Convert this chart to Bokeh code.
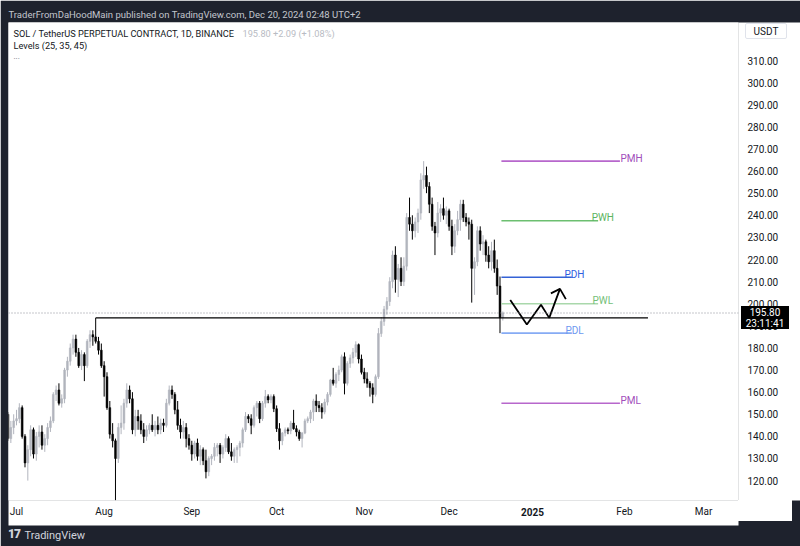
import pandas as pd
from bokeh.plotting import figure
from bokeh.layouts import column
from bokeh.models import (Range1d, FixedTicker, PrintfTickFormatter, Span, Label,
                          ColumnDataSource, Title, Div)
from bokeh.core.properties import value
from bokeh.embed import file_html
from bokeh.resources import INLINE

# ---------------- data (SOLUSDT.P daily) ----------------
first_day = "2024-06-28"
opens = [
    150, 139, 144,
    147, 148, 153, 140, 128, 134, 143, 132, 140, 142, 136, 139, 144, 147, 159, 161, 155, 157, 170, 174,
    180, 184, 178, 172, 177, 172, 183, 186, 185, 183, 179,
    172, 167, 153, 141, 138, 130, 144, 146, 155, 161, 157, 143, 149, 147, 143, 140, 143, 145, 143, 145,
    143, 146, 145, 155, 161, 159, 152, 145, 142, 144, 139,
    136, 132, 137, 131, 134, 129, 124, 130, 131, 135, 136, 132, 135, 139, 133, 131, 134, 135, 137, 143,
    149, 148, 145, 153, 155, 148, 155, 158, 156.5, 158,
    152.5, 143.5, 138, 141.5, 143, 142.5, 146, 143.5, 142, 139, 141.5, 147, 148, 151, 156, 154, 153, 151,
    155.5, 159, 165.5, 164, 168, 170, 176, 164, 173, 175.5, 178, 181.5, 175,
    169, 166, 164, 162, 159, 167, 186.5, 192, 197.5, 201, 210, 222, 211, 216, 210, 217, 239, 236, 233, 237,
    241, 256, 258, 253, 245, 235, 232, 241, 243, 240,
    242, 235, 226, 233, 238, 245, 239, 237, 236, 216, 219, 233, 227, 228, 222, 219, 224, 216, 208, 193.7,
]
highs = [
    151, 147, 150,
    152, 155, 154, 141, 136, 145, 144, 142, 145, 145, 141, 146, 149, 160, 163, 164, 159, 171, 176, 182,
    186, 186, 180, 179, 178, 184, 188, 188, 193.6, 185, 182,
    174, 169, 156, 146, 139, 146, 154, 157, 164, 163, 160, 152, 152, 150, 146, 145, 146, 150, 147, 149,
    148, 148, 157, 163, 163, 160, 156, 148, 147, 146, 141,
    138, 138, 139, 136, 135, 134, 131, 132, 137, 137, 137, 136, 141, 140, 137, 135, 136, 138, 144, 151,
    150, 150, 154, 156, 156, 156, 161, 159, 159, 159,
    154, 146, 142, 144, 144, 147, 152, 145, 143, 142, 148, 149, 152, 157, 159, 156, 155, 157, 160, 166,
    171, 169, 172, 177, 178, 174, 177, 180, 183, 182, 177,
    171, 169, 165, 164, 168, 189, 194, 199, 203, 212, 224, 226, 218, 221, 221, 241, 248, 240, 239, 243,
    259, 264.5, 262, 255, 248, 237, 246, 245, 248, 244,
    243, 238, 236, 242, 247, 247, 241, 239, 238, 221, 235, 235, 231, 229, 226, 228, 229, 220, 212.3, 196.5,
]
lows = [
    138, 137, 141,
    145, 146, 139, 126, 120, 131, 130, 129, 135, 134, 133, 136, 142, 146, 156, 154, 153, 155, 167, 172,
    177, 176, 171, 170, 165, 171, 180, 181, 182, 177, 171,
    158, 152, 139, 135, 111, 128, 141, 143, 153, 155, 141, 140, 143, 141, 137, 138, 141, 142, 140, 141,
    141, 142, 144, 154, 157, 150, 143, 139, 139, 135, 134,
    129, 130, 129, 127, 127, 121, 122, 127, 129, 131, 128, 130, 133, 132, 129, 128, 128, 131, 135, 142,
    146, 141, 144, 149, 146, 147, 153, 155, 155, 151,
    142, 134, 136, 140, 141, 141, 143, 140, 138, 135, 141, 146, 146, 147, 151, 151, 148, 150, 154, 158,
    163, 162, 165, 169, 159, 163, 171, 173, 176, 173, 168,
    164, 162, 158, 155, 158, 166, 185, 190, 195, 199, 207, 205, 203, 208, 208, 215, 233, 229, 230, 232,
    238, 252, 250, 241, 233, 222, 230, 237, 238, 236,
    233, 222, 223, 231, 233, 237, 235, 229, 200.5, 204, 217, 224, 222, 219, 216, 215, 214, 204, 186.7, 192.4,
]
closes = [
    139, 144, 147,
    148, 153, 140, 128, 134, 143, 132, 140, 142, 136, 139, 144, 147, 159, 161, 155, 157, 170, 174, 180,
    184, 178, 172, 177, 172, 183, 186, 185, 183, 179, 172,
    167, 153, 141, 138, 130, 144, 146, 155, 161, 157, 143, 149, 147, 143, 140, 143, 145, 143, 145, 143,
    146, 145, 155, 161, 159, 152, 145, 142, 144, 139, 136,
    132, 137, 131, 134, 129, 124, 130, 131, 135, 136, 132, 135, 139, 133, 131, 134, 135, 137, 143, 149,
    148, 145, 153, 155, 148, 155, 158, 156.5, 158, 152.5,
    143.5, 138, 141.5, 143, 142.5, 146, 143.5, 142, 139, 141.5, 147, 148, 151, 156, 154, 153, 151, 155.5,
    159, 165.5, 164, 168, 170, 176, 164, 173, 175.5, 178, 181.5, 175, 169,
    166, 164, 162, 159, 167, 186.5, 192, 197.5, 201, 210, 222, 211, 216, 210, 217, 239, 236, 233, 237, 241,
    256, 258, 253, 245, 235, 232, 241, 243, 240, 242,
    235, 226, 233, 238, 245, 239, 237, 236, 216, 219, 233, 227, 228, 222, 219, 224, 216, 208, 193.7, 195.8,
]

last_price = 195.80
countdown = "23:11:41"

# key levels (Levels indicator)
level_names = ["PMH", "PWH", "PDH", "PWL", "PDL", "PML"]
level_values = [264.5, 237.5, 212.0, 200.0, 186.7, 155.0]
level_start = "2024-12-19 12:00"
level_ends = ["2025-01-30 10:00", "2025-01-22 17:00", "2025-01-13 10:00",
              "2025-01-22 17:00", "2025-01-13 10:00", "2025-01-30 10:00"]
level_label_at = ["2025-01-30 14:00", "2025-01-20 10:00", "2025-01-10 19:00",
                  "2025-01-20 17:00", "2025-01-11 03:00", "2025-01-30 14:00"]

# horizontal support line drawn from the July high
support_price = 193.6
support_from, support_to = "2024-07-29", "2025-02-09 08:00"

# projected zig-zag path with arrow head
zig_dates = ["2024-12-22 15:00", "2024-12-28 12:00", "2025-01-02 12:00",
             "2025-01-05 10:00", "2025-01-09 05:00"]
zig_prices = [201.7, 190.6, 199.5, 193.6, 206.7]
head_dates = ["2025-01-06 00:00", "2025-01-09 05:00", "2025-01-11 07:00"]
head_prices = [204.7, 206.7, 202.1]

month_ticks = ["2024-07-01", "2024-08-01", "2024-09-01", "2024-10-01", "2024-11-01",
               "2024-12-01", "2025-01-01", "2025-02-01", "2025-03-01"]
month_labels = ["Jul", "Aug", "Sep", "Oct", "Nov", "Dec", "2025", "Feb", "Mar"]
price_ticks = list(range(120, 320, 10))

header_text = "TraderFromDaHoodMain published on TradingView.com, Dec 20, 2024 02:48 UTC+2"
symbol_text = "SOL / TetherUS PERPETUAL CONTRACT, 1D, BINANCE"
change_text = "195.80  +2.09 (+1.08%)"
indicator_text = "Levels (25, 35, 45)"
currency_text = "USDT"

# ---------------- styles ----------------
FONT = "Roboto"
DARK = "#1e222d"
UP = "#b2b5be"
DOWN = "#000000"
TXT = "#131722"
level_line_colors = ["#b767cc", "#6cbf70", "#3462d6", "#a9d8ab", "#86abf4", "#b767cc"]
level_text_colors = ["#a24dbb", "#5cb460", "#2f5ee0", "#74c078", "#6d98f0", "#a24dbb"]

# ---------------- figure ----------------
dates = pd.date_range(first_day, periods=len(opens), freq="D")
df = pd.DataFrame(dict(date=dates, open=opens, high=highs, low=lows, close=closes))
up = df["close"] >= df["open"]
src_up = ColumnDataSource(df[up])
src_dn = ColumnDataSource(df[~up])

p = figure(width=800, height=546, x_axis_type="datetime", y_axis_location="right",
           x_range=Range1d(pd.Timestamp("2024-06-28 04:00"), pd.Timestamp("2025-03-13 08:30")),
           y_range=Range1d(111.0, 327.2),
           output_backend="svg", toolbar_location=None)
p.min_border_left = 8
p.min_border_right = 62
p.min_border_top = 22
p.min_border_bottom = 46
p.background_fill_color = "white"
p.border_fill_color = DARK
p.outline_line_color = None
p.grid.visible = False

# header (title above) and footer (title below)
p.title.text = header_text
p.title.text_font = FONT
p.title.text_font_size = "9.5px"
p.title.text_font_style = "normal"
p.title.text_color = "#c3c6ce"
p.title.align = "left"
p.title.offset = 0
p.title.standoff = 6
p.add_layout(Title(text="TradingView", text_font=FONT, text_font_size="11px",
                   text_font_style="normal", text_color="#d1d4dc", align="left",
                   offset=16, standoff=2), "below")

day_ms = 24 * 3600 * 1000
for src, col in ((src_up, UP), (src_dn, DOWN)):
    p.segment("date", "high", "date", "low", source=src, line_color=col, line_width=1)
    p.vbar(x="date", width=0.62 * day_ms, top="open", bottom="close", source=src,
           fill_color=col, line_color=col, line_width=0.6)

# last price dotted line
p.add_layout(Span(location=last_price, dimension="width", line_color="#8a8d96",
                  line_dash="1 2", line_width=1))

# support line
p.line([pd.Timestamp(support_from), pd.Timestamp(support_to)], [support_price, support_price],
       line_color="black", line_width=1.4)

# levels
lv = ColumnDataSource(dict(
    x0=[pd.Timestamp(level_start)] * len(level_values),
    x1=[pd.Timestamp(d) for d in level_ends],
    y=level_values, name=level_names,
    xl=[pd.Timestamp(d) for d in level_label_at],
    lc=level_line_colors, tc=level_text_colors))
p.segment(x0="x0", y0="y", x1="x1", y1="y", source=lv, line_color="lc", line_width=1.6)
p.text(x="xl", y="y", text="name", source=lv, text_color="tc", text_font=value(FONT),
       text_font_size="10px", text_baseline="middle", text_align="left", y_offset=-3)

# zig-zag projection
p.line([pd.Timestamp(d) for d in zig_dates], zig_prices, line_color="black", line_width=1.8)
p.line([pd.Timestamp(d) for d in head_dates], head_prices, line_color="black", line_width=1.8)

# axes
xa = p.xaxis[0]
tick_ms = [pd.Timestamp(d).value / 1e6 for d in month_ticks]
xa.ticker = FixedTicker(ticks=tick_ms)
xa.major_label_overrides = {t: ("" if lab == "2025" else lab) for t, lab in zip(tick_ms, month_labels)}
ya = p.yaxis[0]
ya.ticker = FixedTicker(ticks=price_ticks)
ya.formatter = PrintfTickFormatter(format="%.2f")
for ax in (xa, ya):
    ax.axis_line_color = None
    ax.major_tick_line_color = None
    ax.minor_tick_line_color = None
    ax.major_tick_out = 0
    ax.major_tick_in = 0
    ax.major_label_text_font = FONT
    ax.major_label_text_font_size = "10px"
    ax.major_label_text_color = TXT
    ax.background_fill_color = "white"
    ax.axis_label = " "
ya.major_label_standoff = 9
ya.axis_label_text_font_size = "12px"
ya.axis_label_standoff = 2
xa.major_label_standoff = 5
xa.axis_label_text_font_size = "2px"
xa.axis_label_standoff = 1

# ---------------- texts inside the chart pane ----------------
def lab(text, X, Y, **kw):
    kw.setdefault("text_font", FONT)
    kw.setdefault("text_font_size", "9.2px")
    kw.setdefault("text_baseline", "middle")
    p.add_layout(Label(x=X - 8, y=500 - Y, x_units="screen", y_units="screen", text=text, **kw))

lab(symbol_text, 13, 33, text_color=TXT)
lab(change_text, 242, 33, text_color="#b8bbc3")
lab(indicator_text, 13, 45, text_color=TXT)
lab("...", 13, 56, text_color="#6a6d78", text_font_size="8px")

# ---------------- overlays on the price / time scales ----------------
def overlay(html, left, top, width, height, css):
    st = {"position": "absolute", "left": f"{left}px", "top": f"{top}px", "z-index": "10",
          "width": f"{width}px", "height": f"{height}px", "overflow": "hidden"}
    st.update(css)
    return Div(text=html, width=width, height=height, margin=0, styles=st)

base = f"font-family:{FONT};font-size:10px;"
year_lab = [l for l in month_labels if l == "2025"][0]
divs = [
    overlay("", 738, 500, 54, 21, {"background-color": "white"}),
    overlay(f'<div style="{base}color:{TXT};text-align:center;line-height:16px;'
            f'border:1px solid #e0e3eb;border-radius:2px;width:42px;height:16px;background:white">'
            f'{currency_text}</div>', 745, 23, 44, 18, {}),
    overlay(f'<div style="{base}color:white;background:black;text-align:center;line-height:11px;'
            f'width:48px;height:23px;padding-top:1px;box-sizing:border-box">'
            f'{last_price:.2f}<br>{countdown}</div>', 741, 306, 48, 23, {}),
    overlay(f'<div style="{base}font-weight:bold;color:{TXT};text-align:center;line-height:14px">'
            f'{year_lab}</div>', 521, 504, 30, 14, {}),
    overlay(f'<div style="font-family:{FONT};font-size:12px;font-weight:900;color:#d1d4dc;'
            f'line-height:14px;letter-spacing:-1px">17</div>', 8, 526, 16, 14, {}),
]

layout = column(p, *divs, spacing=0)
open("out.html", "w").write(file_html(layout, INLINE))
